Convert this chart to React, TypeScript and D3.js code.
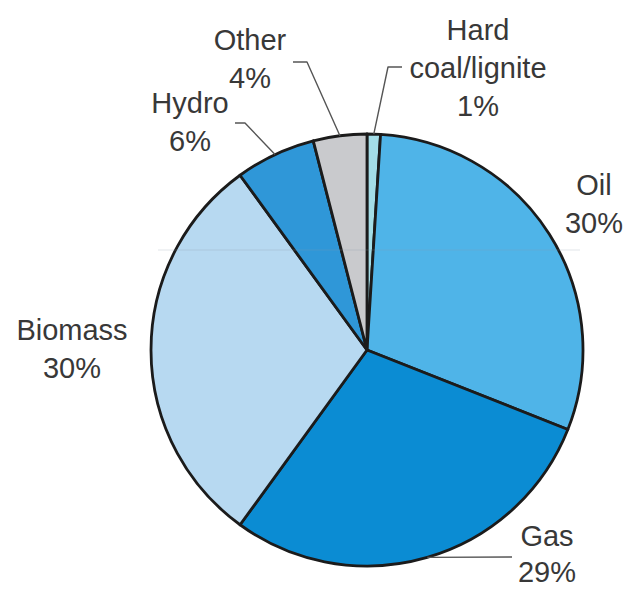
import React from "react";
import * as d3 from "d3";

// Energy mix shares (%), clockwise from 12 o'clock
const categories = ["Hard coal/lignite", "Oil", "Gas", "Biomass", "Hydro", "Other"];
const shares = [1, 30, 29, 30, 6, 4];
const labelLines = [
  ["Hard", "coal/lignite", "1%"],
  ["Oil", "30%"],
  ["Gas", "29%"],
  ["Biomass", "30%"],
  ["Hydro", "6%"],
  ["Other", "4%"],
];
const sliceColors = ["#a3dde7", "#4fb4e8", "#0b8cd3", "#b7d9f1", "#2f97d8", "#c9cacd"];

// Layout
const W = 625;
const H = 589;
const CX = 367;
const CY = 350;
const R = 216;
const FONT = 29;
const LINE_H = 38;

// Text anchor per slice: centre x, first baseline y, line spacing
const labelPos: [number, number, number][] = [
  [478, 40, LINE_H],
  [594, 195, LINE_H],
  [547, 546, 36],
  [72, 340, LINE_H],
  [190, 113, LINE_H],
  [250, 50, LINE_H],
];

// Leader lines: elbow points from the slice edge to the label (null = no leader)
const leaders: ([number, number][] | null)[] = [
  [[388, 67], [402, 67]],
  null,
  [[512, 557]],
  null,
  [[245, 123], [235, 123]],
  [[307, 62], [293, 62]],
];

export default function App() {
  const pie = d3
    .pie<number>()
    .sort(null)
    .value((d) => d)
    .startAngle(0)
    .endAngle(2 * Math.PI);
  const arcs = pie(shares);
  const arc = d3.arc<d3.PieArcDatum<number>>().innerRadius(0).outerRadius(R);

  const edgePoint = (a: d3.PieArcDatum<number>): [number, number] => {
    const m = (a.startAngle + a.endAngle) / 2;
    return [CX + R * Math.sin(m), CY - R * Math.cos(m)];
  };

  const line = d3.line<[number, number]>();

  return (
    <svg
      width={W}
      height={H}
      style={{ position: "absolute", left: 0, top: 0, background: "#fff" }}
    >
      <g transform={`translate(${CX},${CY})`}>
        {arcs.map((a, i) => (
          <path
            key={categories[i]}
            d={arc(a) || ""}
            fill={sliceColors[i]}
            stroke="#1b1b1b"
            strokeWidth={2.8}
            strokeLinejoin="round"
          />
        ))}
      </g>
      {/* faint horizontal rule across the disc */}
      <line x1={158} x2={580} y1={250} y2={250} stroke="#8a9aa8" strokeOpacity={0.25} strokeWidth={1} />
      {arcs.map((a, i) => {
        const pts = leaders[i];
        if (!pts) return null;
        const path = line([edgePoint(a), ...pts]) || "";
        return (
          <path
            key={"l" + i}
            d={path}
            fill="none"
            stroke="#555"
            strokeWidth={1.4}
            strokeLinejoin="round"
          />
        );
      })}
      {labelLines.map((lines, i) => (
        <text
          key={"t" + i}
          x={labelPos[i][0]}
          y={labelPos[i][1]}
          textAnchor="middle"
          fontFamily="'Liberation Sans', Arial, sans-serif"
          fontSize={FONT}
          fill="#383838"
        >
          {lines.map((s, j) => (
            <tspan key={j} x={labelPos[i][0]} dy={j === 0 ? 0 : labelPos[i][2]}>
              {s}
            </tspan>
          ))}
        </text>
      ))}
    </svg>
  );
}
